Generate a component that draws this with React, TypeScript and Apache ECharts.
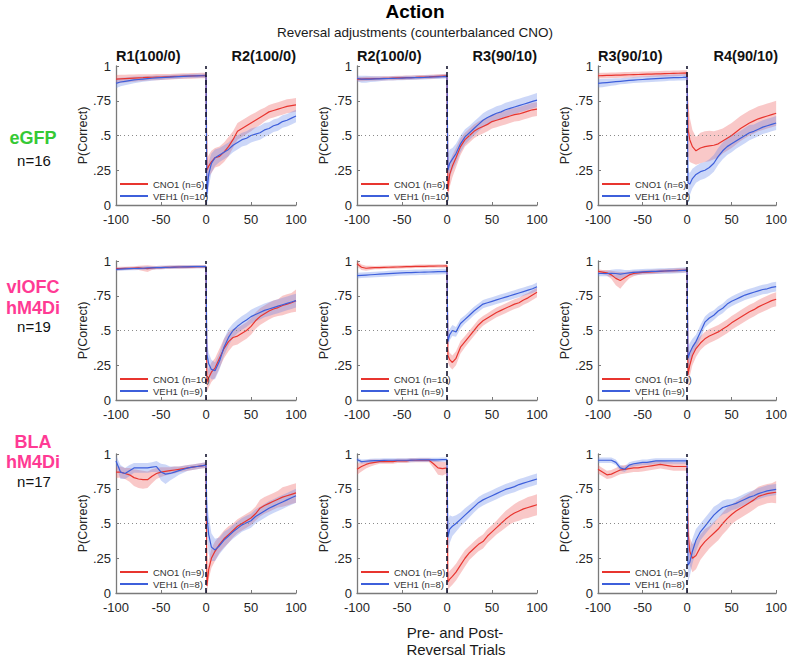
import React, { useEffect, useRef } from "react";
import * as echarts from "echarts";

// Trial positions: 21 pre-reversal points, 22 post-reversal points
const trialX = [
  -100, -95, -90, -85, -80, -75, -70, -65, -60, -55, -50, -45, -40, -35, -30, -25, -20, -15, -10, -5, 0,
  1, 3, 6, 10, 15, 20, 25, 30, 35, 40, 45, 50, 55, 60, 65, 70, 75, 80, 85, 90, 95, 100,
];

const yTickLabels = ["0", ".25", ".5", ".75", "1"];
const xTicks = [-100, -50, 0, 50, 100];

const columnTitles = [
  ["R1(100/0)", "R2(100/0)"],
  ["R2(100/0)", "R3(90/10)"],
  ["R3(90/10)", "R4(90/10)"],
];

const rowGroups = [
  { lines: ["eGFP"], color: "#35c935", n: "n=16" },
  { lines: ["vlOFC", "hM4Di"], color: "#ff3a94", n: "n=19" },
  { lines: ["BLA", "hM4Di"], color: "#ff3a94", n: "n=17" },
];

const rowLegendNames = [
  ["CNO1 (n=6)", "VEH1 (n=10)"],
  ["CNO1 (n=10)", "VEH1 (n=9)"],
  ["CNO1 (n=9)", "VEH1 (n=8)"],
];

// ---- eGFP row ----
const egfpC1Cno = [
  0.905, 0.907, 0.909, 0.911, 0.913, 0.915, 0.916, 0.918, 0.919, 0.92, 0.921, 0.922, 0.923, 0.925, 0.926, 0.927, 0.928, 0.929, 0.93, 0.931, 0.932,
  0.25, 0.28, 0.31, 0.34, 0.35, 0.38, 0.42, 0.47, 0.53, 0.55, 0.57, 0.59, 0.61, 0.63, 0.65, 0.67, 0.68, 0.69, 0.7, 0.71, 0.715, 0.72,
];
const egfpC1CnoSem = [
  0.03, 0.03, 0.028, 0.027, 0.026, 0.025, 0.024, 0.023, 0.022, 0.022, 0.021, 0.021, 0.02, 0.02, 0.02, 0.02, 0.02, 0.02, 0.02, 0.02, 0.02,
  0.08, 0.08, 0.08, 0.07, 0.07, 0.07, 0.07, 0.06, 0.06, 0.06, 0.06, 0.06, 0.055, 0.055, 0.05, 0.05, 0.05, 0.05, 0.05, 0.05, 0.05, 0.05,
];
const egfpC1Veh = [
  0.875, 0.885, 0.89, 0.895, 0.9, 0.903, 0.906, 0.909, 0.912, 0.914, 0.916, 0.918, 0.92, 0.922, 0.924, 0.926, 0.927, 0.928, 0.929, 0.93, 0.93,
  0.08, 0.22, 0.3, 0.34, 0.36, 0.38, 0.4, 0.43, 0.45, 0.47, 0.48, 0.5, 0.51, 0.52, 0.54, 0.55, 0.57, 0.58, 0.6, 0.61, 0.625, 0.64,
];
const egfpC1VehSem = [
  0.035, 0.03, 0.028, 0.026, 0.024, 0.022, 0.02, 0.019, 0.018, 0.017, 0.016, 0.015, 0.015, 0.015, 0.015, 0.015, 0.015, 0.015, 0.015, 0.015, 0.015,
  0.1, 0.09, 0.07, 0.06, 0.05, 0.05, 0.05, 0.05, 0.05, 0.05, 0.05, 0.05, 0.05, 0.05, 0.05, 0.045, 0.045, 0.045, 0.045, 0.045, 0.045, 0.045,
];

const egfpC2Cno = [
  0.905, 0.906, 0.907, 0.908, 0.909, 0.91, 0.911, 0.912, 0.913, 0.914, 0.915, 0.916, 0.917, 0.918, 0.92, 0.921, 0.922, 0.924, 0.926, 0.928, 0.93,
  0.1, 0.22, 0.28, 0.34, 0.42, 0.47, 0.5, 0.53, 0.55, 0.565, 0.58, 0.6, 0.61, 0.62, 0.63, 0.64, 0.65, 0.655, 0.665, 0.675, 0.685, 0.69,
];
const egfpC2CnoSem = [
  0.015, 0.015, 0.015, 0.015, 0.015, 0.015, 0.015, 0.015, 0.015, 0.015, 0.015, 0.015, 0.015, 0.015, 0.015, 0.015, 0.015, 0.015, 0.015, 0.015, 0.015,
  0.1, 0.09, 0.08, 0.07, 0.06, 0.05, 0.05, 0.05, 0.05, 0.05, 0.05, 0.05, 0.05, 0.05, 0.05, 0.05, 0.05, 0.05, 0.05, 0.05, 0.05, 0.05,
];
const egfpC2Veh = [
  0.91, 0.905, 0.905, 0.906, 0.907, 0.908, 0.909, 0.91, 0.911, 0.912, 0.913, 0.914, 0.915, 0.916, 0.917, 0.918, 0.92, 0.921, 0.922, 0.923, 0.925,
  0.25, 0.3, 0.33, 0.37, 0.44, 0.49, 0.52, 0.55, 0.58, 0.61, 0.63, 0.645, 0.66, 0.67, 0.685, 0.695, 0.705, 0.715, 0.725, 0.735, 0.745, 0.755,
];
const egfpC2VehSem = [
  0.02, 0.025, 0.025, 0.022, 0.02, 0.018, 0.016, 0.015, 0.015, 0.015, 0.015, 0.015, 0.015, 0.015, 0.015, 0.015, 0.015, 0.015, 0.015, 0.015, 0.015,
  0.12, 0.1, 0.08, 0.07, 0.06, 0.055, 0.05, 0.05, 0.05, 0.05, 0.05, 0.05, 0.05, 0.05, 0.05, 0.05, 0.05, 0.05, 0.05, 0.05, 0.05, 0.05,
];

const egfpC3Cno = [
  0.93, 0.931, 0.932, 0.933, 0.934, 0.935, 0.936, 0.937, 0.938, 0.939, 0.94, 0.941, 0.942, 0.943, 0.944, 0.945, 0.946, 0.947, 0.948, 0.949, 0.95,
  0.55, 0.47, 0.42, 0.39, 0.41, 0.42, 0.425, 0.43, 0.44, 0.46, 0.48, 0.5, 0.525, 0.55, 0.57, 0.59, 0.605, 0.62, 0.63, 0.64, 0.65, 0.66,
];
const egfpC3CnoSem = [
  0.02, 0.02, 0.02, 0.02, 0.02, 0.02, 0.02, 0.02, 0.02, 0.02, 0.02, 0.02, 0.02, 0.02, 0.02, 0.02, 0.02, 0.02, 0.02, 0.02, 0.02,
  0.2, 0.16, 0.12, 0.1, 0.11, 0.11, 0.11, 0.1, 0.1, 0.09, 0.09, 0.09, 0.09, 0.09, 0.09, 0.09, 0.09, 0.09, 0.09, 0.09, 0.09, 0.09,
];
const egfpC3Veh = [
  0.875, 0.878, 0.881, 0.884, 0.887, 0.89, 0.893, 0.896, 0.899, 0.901, 0.903, 0.905, 0.907, 0.909, 0.911, 0.913, 0.915, 0.916, 0.917, 0.918, 0.92,
  0.16, 0.15, 0.19, 0.22, 0.24, 0.25, 0.27, 0.3, 0.35, 0.39, 0.42, 0.44, 0.46, 0.48, 0.5, 0.52, 0.53, 0.545, 0.56, 0.57, 0.58, 0.59,
];
const egfpC3VehSem = [
  0.03, 0.03, 0.028, 0.026, 0.025, 0.022, 0.022, 0.022, 0.022, 0.022, 0.022, 0.022, 0.022, 0.022, 0.022, 0.022, 0.022, 0.022, 0.022, 0.022, 0.022,
  0.09, 0.08, 0.07, 0.06, 0.06, 0.06, 0.06, 0.06, 0.06, 0.06, 0.06, 0.06, 0.055, 0.055, 0.055, 0.055, 0.05, 0.05, 0.05, 0.05, 0.05, 0.05,
];

// ---- vlOFC row ----
const vlofcC1Cno = [
  0.945, 0.946, 0.947, 0.948, 0.949, 0.95, 0.948, 0.945, 0.95, 0.952, 0.953, 0.954, 0.955, 0.956, 0.957, 0.957, 0.958, 0.958, 0.959, 0.96, 0.96,
  0.13, 0.16, 0.2, 0.23, 0.3, 0.37, 0.42, 0.45, 0.46, 0.48, 0.5, 0.53, 0.57, 0.6, 0.62, 0.64, 0.655, 0.665, 0.68, 0.69, 0.7, 0.715,
];
const vlofcC1CnoSem = [
  0.012, 0.012, 0.012, 0.012, 0.012, 0.015, 0.02, 0.025, 0.015, 0.012, 0.012, 0.012, 0.012, 0.012, 0.012, 0.012, 0.012, 0.012, 0.012, 0.012, 0.012,
  0.07, 0.07, 0.07, 0.07, 0.07, 0.07, 0.07, 0.06, 0.06, 0.06, 0.06, 0.06, 0.06, 0.06, 0.06, 0.06, 0.06, 0.06, 0.07, 0.07, 0.07, 0.08,
];
const vlofcC1Veh = [
  0.94, 0.942, 0.944, 0.945, 0.946, 0.947, 0.948, 0.95, 0.951, 0.952, 0.953, 0.954, 0.955, 0.956, 0.957, 0.958, 0.958, 0.959, 0.959, 0.96, 0.96,
  0.33, 0.26, 0.22, 0.21, 0.28, 0.38, 0.45, 0.5, 0.53, 0.555, 0.575, 0.6, 0.615, 0.63, 0.645, 0.655, 0.665, 0.675, 0.685, 0.695, 0.705, 0.715,
];
const vlofcC1VehSem = [
  0.012, 0.012, 0.012, 0.012, 0.012, 0.012, 0.012, 0.012, 0.012, 0.012, 0.012, 0.012, 0.012, 0.012, 0.012, 0.012, 0.012, 0.012, 0.012, 0.012, 0.012,
  0.1, 0.08, 0.07, 0.06, 0.06, 0.06, 0.06, 0.05, 0.05, 0.05, 0.05, 0.05, 0.05, 0.05, 0.05, 0.05, 0.05, 0.05, 0.05, 0.05, 0.05, 0.05,
];

const vlofcC2Cno = [
  0.98, 0.955, 0.948, 0.95, 0.952, 0.953, 0.954, 0.955, 0.956, 0.957, 0.958, 0.959, 0.96, 0.961, 0.962, 0.962, 0.963, 0.963, 0.964, 0.964, 0.965,
  0.32, 0.29, 0.27, 0.3, 0.38, 0.42, 0.46, 0.5, 0.54, 0.57, 0.59, 0.61, 0.63, 0.645, 0.66, 0.675, 0.69, 0.7, 0.72, 0.735, 0.755, 0.775,
];
const vlofcC2CnoSem = [
  0.02, 0.02, 0.018, 0.015, 0.012, 0.012, 0.012, 0.012, 0.012, 0.012, 0.012, 0.012, 0.012, 0.012, 0.012, 0.012, 0.012, 0.012, 0.012, 0.012, 0.012,
  0.05, 0.05, 0.05, 0.05, 0.045, 0.04, 0.04, 0.04, 0.04, 0.035, 0.035, 0.035, 0.035, 0.035, 0.035, 0.035, 0.035, 0.035, 0.035, 0.035, 0.035, 0.035,
];
const vlofcC2Veh = [
  0.895, 0.897, 0.899, 0.901, 0.903, 0.905, 0.907, 0.909, 0.911, 0.913, 0.915, 0.916, 0.917, 0.918, 0.919, 0.92, 0.921, 0.922, 0.923, 0.924, 0.925,
  0.42, 0.47, 0.5, 0.49, 0.55, 0.58, 0.61, 0.64, 0.665, 0.69, 0.7, 0.71, 0.72, 0.73, 0.74, 0.75, 0.76, 0.77, 0.78, 0.79, 0.8, 0.815,
];
const vlofcC2VehSem = [
  0.02, 0.02, 0.02, 0.02, 0.02, 0.02, 0.02, 0.02, 0.02, 0.02, 0.02, 0.02, 0.02, 0.02, 0.02, 0.02, 0.02, 0.02, 0.02, 0.02, 0.02,
  0.05, 0.04, 0.04, 0.035, 0.035, 0.03, 0.03, 0.03, 0.03, 0.03, 0.03, 0.03, 0.03, 0.03, 0.03, 0.03, 0.03, 0.03, 0.03, 0.03, 0.03, 0.03,
];

const vlofcC3Cno = [
  0.925, 0.92, 0.915, 0.9, 0.875, 0.86, 0.88, 0.9, 0.91, 0.915, 0.918, 0.92, 0.922, 0.924, 0.926, 0.928, 0.93, 0.931, 0.932, 0.933, 0.935,
  0.18, 0.25, 0.32, 0.37, 0.41, 0.44, 0.46, 0.475, 0.49, 0.51, 0.53, 0.555, 0.575, 0.595, 0.615, 0.635, 0.65, 0.67, 0.685, 0.7, 0.715, 0.725,
];
const vlofcC3CnoSem = [
  0.015, 0.015, 0.02, 0.03, 0.05, 0.06, 0.04, 0.025, 0.02, 0.015, 0.015, 0.015, 0.015, 0.015, 0.015, 0.015, 0.015, 0.015, 0.015, 0.015, 0.015,
  0.1, 0.08, 0.07, 0.06, 0.05, 0.05, 0.05, 0.05, 0.05, 0.05, 0.05, 0.05, 0.05, 0.05, 0.05, 0.05, 0.05, 0.05, 0.05, 0.05, 0.05, 0.05,
];
const vlofcC3Veh = [
  0.91, 0.91, 0.91, 0.912, 0.91, 0.905, 0.91, 0.915, 0.918, 0.92, 0.922, 0.924, 0.925, 0.926, 0.927, 0.928, 0.929, 0.93, 0.931, 0.933, 0.935,
  0.3, 0.34, 0.38, 0.42, 0.49, 0.56, 0.59, 0.61, 0.64, 0.66, 0.69, 0.71, 0.725, 0.74, 0.755, 0.765, 0.775, 0.785, 0.795, 0.8, 0.81, 0.815,
];
const vlofcC3VehSem = [
  0.02, 0.02, 0.02, 0.025, 0.03, 0.035, 0.025, 0.02, 0.02, 0.02, 0.02, 0.02, 0.02, 0.02, 0.02, 0.02, 0.02, 0.02, 0.02, 0.02, 0.02,
  0.08, 0.07, 0.06, 0.05, 0.05, 0.04, 0.04, 0.035, 0.035, 0.035, 0.035, 0.035, 0.035, 0.035, 0.035, 0.035, 0.035, 0.035, 0.035, 0.035, 0.035, 0.035,
];

// ---- BLA row ----
const blaC1Cno = [
  0.87, 0.87, 0.86, 0.85, 0.83, 0.82, 0.815, 0.815, 0.84, 0.86, 0.87, 0.875, 0.88, 0.885, 0.89, 0.895, 0.9, 0.905, 0.91, 0.915, 0.92,
  0.05, 0.17, 0.25, 0.3, 0.35, 0.39, 0.42, 0.45, 0.48, 0.5, 0.52, 0.54, 0.57, 0.61, 0.63, 0.645, 0.66, 0.675, 0.69, 0.7, 0.71, 0.72,
];
const blaC1CnoSem = [
  0.04, 0.04, 0.04, 0.05, 0.06, 0.065, 0.065, 0.06, 0.05, 0.04, 0.035, 0.03, 0.025, 0.025, 0.02, 0.02, 0.02, 0.02, 0.02, 0.02, 0.02,
  0.06, 0.07, 0.07, 0.07, 0.06, 0.06, 0.06, 0.05, 0.05, 0.05, 0.05, 0.05, 0.05, 0.06, 0.06, 0.06, 0.06, 0.06, 0.07, 0.07, 0.07, 0.07,
];
const blaC1Veh = [
  0.95, 0.87, 0.86, 0.88, 0.9, 0.9, 0.9, 0.9, 0.905, 0.91, 0.87, 0.855, 0.86, 0.87, 0.88, 0.89, 0.9, 0.905, 0.91, 0.915, 0.92,
  0.55, 0.42, 0.33, 0.31, 0.34, 0.38, 0.41, 0.44, 0.465, 0.49, 0.505, 0.52, 0.55, 0.57, 0.59, 0.61, 0.625, 0.64, 0.655, 0.67, 0.685, 0.7,
];
const blaC1VehSem = [
  0.04, 0.05, 0.04, 0.04, 0.035, 0.035, 0.035, 0.035, 0.035, 0.04, 0.06, 0.07, 0.05, 0.04, 0.03, 0.025, 0.02, 0.02, 0.02, 0.02, 0.02,
  0.12, 0.14, 0.1, 0.08, 0.06, 0.06, 0.05, 0.05, 0.05, 0.05, 0.05, 0.05, 0.05, 0.05, 0.05, 0.05, 0.05, 0.05, 0.05, 0.05, 0.05, 0.05,
];

const blaC2Cno = [
  0.89, 0.91, 0.925, 0.935, 0.94, 0.945, 0.945, 0.945, 0.945, 0.95, 0.95, 0.95, 0.955, 0.955, 0.955, 0.955, 0.955, 0.93, 0.9, 0.895, 0.9,
  0.08, 0.1, 0.12, 0.15, 0.2, 0.25, 0.29, 0.32, 0.35, 0.37, 0.41, 0.44, 0.47, 0.5, 0.53, 0.555, 0.575, 0.59, 0.605, 0.615, 0.625, 0.635,
];
const blaC2CnoSem = [
  0.04, 0.035, 0.03, 0.025, 0.02, 0.015, 0.015, 0.015, 0.015, 0.015, 0.015, 0.015, 0.015, 0.015, 0.015, 0.015, 0.015, 0.03, 0.05, 0.05, 0.04,
  0.06, 0.06, 0.06, 0.06, 0.06, 0.06, 0.05, 0.05, 0.05, 0.05, 0.05, 0.05, 0.05, 0.055, 0.06, 0.06, 0.065, 0.07, 0.07, 0.075, 0.075, 0.075,
];
const blaC2Veh = [
  0.96, 0.945, 0.948, 0.95, 0.952, 0.953, 0.954, 0.955, 0.955, 0.955, 0.955, 0.955, 0.956, 0.957, 0.958, 0.958, 0.958, 0.958, 0.958, 0.959, 0.96,
  0.4, 0.46, 0.48, 0.5, 0.53, 0.56, 0.59, 0.62, 0.65, 0.67, 0.685, 0.7, 0.715, 0.73, 0.745, 0.755, 0.765, 0.78, 0.79, 0.8, 0.81, 0.82,
];
const blaC2VehSem = [
  0.015, 0.015, 0.015, 0.015, 0.015, 0.015, 0.015, 0.015, 0.015, 0.015, 0.015, 0.015, 0.015, 0.015, 0.015, 0.015, 0.015, 0.015, 0.015, 0.015, 0.015,
  0.12, 0.1, 0.07, 0.06, 0.05, 0.05, 0.045, 0.04, 0.04, 0.04, 0.04, 0.04, 0.04, 0.04, 0.04, 0.04, 0.04, 0.04, 0.04, 0.04, 0.04, 0.04,
];

const blaC3Cno = [
  0.89, 0.87, 0.85, 0.855, 0.87, 0.885, 0.89, 0.895, 0.9, 0.9, 0.905, 0.91, 0.915, 0.92, 0.925, 0.92, 0.915, 0.91, 0.91, 0.91, 0.91,
  0.45, 0.3, 0.25, 0.27, 0.33, 0.37, 0.4, 0.43, 0.46, 0.5, 0.535, 0.565, 0.59, 0.61, 0.63, 0.65, 0.67, 0.695, 0.705, 0.715, 0.72, 0.725,
];
const blaC3CnoSem = [
  0.03, 0.03, 0.03, 0.03, 0.03, 0.03, 0.03, 0.03, 0.03, 0.03, 0.03, 0.03, 0.03, 0.03, 0.03, 0.03, 0.03, 0.03, 0.03, 0.03, 0.03,
  0.15, 0.1, 0.1, 0.1, 0.09, 0.09, 0.08, 0.08, 0.08, 0.08, 0.08, 0.07, 0.07, 0.07, 0.07, 0.07, 0.07, 0.07, 0.07, 0.07, 0.07, 0.08,
];
const blaC3Veh = [
  0.955, 0.955, 0.955, 0.955, 0.94, 0.9, 0.89, 0.92, 0.93, 0.935, 0.94, 0.94, 0.945, 0.95, 0.95, 0.95, 0.95, 0.95, 0.95, 0.95, 0.95,
  0.2, 0.22, 0.3, 0.38, 0.44, 0.48, 0.52, 0.56, 0.59, 0.615, 0.625, 0.635, 0.645, 0.66, 0.675, 0.69, 0.7, 0.715, 0.725, 0.735, 0.74, 0.745,
];
const blaC3VehSem = [
  0.02, 0.02, 0.02, 0.02, 0.02, 0.02, 0.02, 0.02, 0.02, 0.02, 0.02, 0.02, 0.02, 0.02, 0.02, 0.02, 0.02, 0.02, 0.02, 0.02, 0.02,
  0.12, 0.1, 0.09, 0.08, 0.06, 0.06, 0.06, 0.06, 0.05, 0.05, 0.05, 0.04, 0.04, 0.04, 0.04, 0.04, 0.04, 0.04, 0.04, 0.04, 0.04, 0.04,
];

const panelData = [
  [egfpC1Cno, egfpC1CnoSem, egfpC1Veh, egfpC1VehSem],
  [egfpC2Cno, egfpC2CnoSem, egfpC2Veh, egfpC2VehSem],
  [egfpC3Cno, egfpC3CnoSem, egfpC3Veh, egfpC3VehSem],
  [vlofcC1Cno, vlofcC1CnoSem, vlofcC1Veh, vlofcC1VehSem],
  [vlofcC2Cno, vlofcC2CnoSem, vlofcC2Veh, vlofcC2VehSem],
  [vlofcC3Cno, vlofcC3CnoSem, vlofcC3Veh, vlofcC3VehSem],
  [blaC1Cno, blaC1CnoSem, blaC1Veh, blaC1VehSem],
  [blaC2Cno, blaC2CnoSem, blaC2Veh, blaC2VehSem],
  [blaC3Cno, blaC3CnoSem, blaC3Veh, blaC3VehSem],
];

// Layout (pixels)
const GRID_LEFTS = [116, 357, 598];
const GRID_TOPS = [66, 261, 454];
const GW = 180;
const GH = 139;
const FONT = "'Liberation Sans', Arial, Helvetica, sans-serif";
const RED = "#e8352f";
const BLUE = "#3d5fdb";
const RED_BAND = "rgba(238, 95, 95, 0.34)";
const BLUE_BAND = "rgba(95, 130, 232, 0.32)";
const AXIS_GRAY = "#7a7a7a";

function bandSeries(i: number, mean: number[], sem: number[], fill: string) {
  const rows = trialX.map((x, k) => [x, mean[k] - sem[k], mean[k] + sem[k]]);
  return {
    type: "custom",
    xAxisIndex: i,
    yAxisIndex: i,
    silent: true,
    clip: true,
    z: 1,
    encode: { x: 0, y: [1, 2] },
    data: rows,
    renderItem: (params: any, api: any) => {
      if (params.dataIndex !== 0) return null;
      const upper = rows.map((r) => api.coord([r[0], r[2]]));
      const lower = rows.map((r) => api.coord([r[0], r[1]])).reverse();
      return {
        type: "polygon",
        shape: { points: upper.concat(lower) },
        style: { fill, stroke: "none" },
      };
    },
  };
}

function buildOption() {
  const grid: any[] = [];
  const xAxis: any[] = [];
  const yAxis: any[] = [];
  const series: any[] = [];
  const legend: any[] = [];

  panelData.forEach((pd, i) => {
    const r = Math.floor(i / 3);
    const c = i % 3;
    const [cno, cnoSem, veh, vehSem] = pd;
    const [cnoName, vehName] = rowLegendNames[r];
    const left = GRID_LEFTS[c];
    const top = GRID_TOPS[r];

    grid.push({ left, top, width: GW, height: GH, containLabel: false });
    xAxis.push({
      type: "value",
      gridIndex: i,
      min: -100,
      max: 100,
      interval: 50,
      axisLine: { show: true, onZero: false, lineStyle: { color: AXIS_GRAY, width: 1.3 } },
      axisTick: { show: true, inside: true, length: 3, lineStyle: { color: AXIS_GRAY } },
      axisLabel: {
        fontSize: 13,
        color: "#262626",
        margin: 8,
        fontFamily: FONT,
        formatter: (v: number) => (xTicks.includes(v) ? String(v) : ""),
      },
      splitLine: { show: false },
    });
    yAxis.push({
      type: "value",
      gridIndex: i,
      min: 0,
      max: 1,
      interval: 0.25,
      name: "P(Correct)",
      nameLocation: "middle",
      nameGap: 27,
      nameTextStyle: { fontSize: 12.5, color: "#262626", fontFamily: FONT },
      axisLine: { show: true, onZero: false, lineStyle: { color: AXIS_GRAY, width: 1.3 } },
      axisTick: { show: true, inside: true, length: 3, lineStyle: { color: AXIS_GRAY } },
      axisLabel: {
        fontSize: 13,
        color: "#262626",
        margin: 5,
        fontFamily: FONT,
        formatter: (v: number) => yTickLabels[Math.round(v * 4)] ?? "",
      },
      splitLine: { show: false },
    });

    series.push(bandSeries(i, cno, cnoSem, RED_BAND));
    series.push(bandSeries(i, veh, vehSem, BLUE_BAND));

    series.push({
      type: "line",
      name: cnoName,
      xAxisIndex: i,
      yAxisIndex: i,
      symbol: "none",
      z: 3,
      lineStyle: { color: RED, width: 1.2 },
      itemStyle: { color: RED },
      data: trialX.map((x, k) => [x, cno[k]]),
    });
    series.push({
      type: "line",
      name: vehName,
      xAxisIndex: i,
      yAxisIndex: i,
      symbol: "none",
      z: 4,
      lineStyle: { color: BLUE, width: 1.2 },
      itemStyle: { color: BLUE },
      data: trialX.map((x, k) => [x, veh[k]]),
      markLine: {
        silent: true,
        symbol: ["none", "none"],
        label: { show: false },
        data: [
          { xAxis: 0, lineStyle: { type: [5, 3], color: "#161630", width: 1.6 } },
          { yAxis: 0.5, lineStyle: { type: [1, 3], color: "#8a8a8a", width: 1 } },
        ],
      },
    });

    legend.push({
      left: left + 3,
      top: top + GH - 26,
      orient: "vertical",
      itemGap: 2,
      itemWidth: 28,
      itemHeight: 9,
      padding: 0,
      selectedMode: false,
      itemStyle: { opacity: 0 },
      textStyle: { fontSize: 9.5, color: "#333", fontFamily: FONT },
      data: [cnoName, vehName],
    });
  });

  const texts: any[] = [];
  texts.push({ text: "Action", x: 415, y: 11, fontSize: 19, fontWeight: "bold", align: "center", fill: "#000" });
  texts.push({
    text: "Reversal adjustments (counterbalanced CNO)",
    x: 415,
    y: 32,
    fontSize: 13.5,
    fontWeight: "normal",
    align: "center",
    fill: "#1a1a1a",
  });
  columnTitles.forEach((pair, c) => {
    texts.push({ text: pair[0], x: GRID_LEFTS[c], y: 56, fontSize: 14.5, fontWeight: "bold", align: "left", fill: "#111" });
    texts.push({ text: pair[1], x: GRID_LEFTS[c] + GW, y: 56, fontSize: 14.5, fontWeight: "bold", align: "right", fill: "#111" });
  });
  const rowLabelY = [
    [138, 160],
    [287, 308, 326],
    [442, 462, 481],
  ];
  rowGroups.forEach((rg, r) => {
    rg.lines.forEach((t, j) => {
      texts.push({ text: t, x: 33, y: rowLabelY[r][j], fontSize: 18, fontWeight: "bold", align: "center", fill: rg.color });
    });
    texts.push({
      text: rg.n,
      x: 34,
      y: rowLabelY[r][rg.lines.length],
      fontSize: 15,
      fontWeight: "normal",
      align: "center",
      fill: "#111",
    });
  });
  texts.push({ text: "Pre- and Post-", x: 455, y: 632, fontSize: 15, fontWeight: "normal", align: "center", fill: "#1a1a1a" });
  texts.push({ text: "Reversal Trials", x: 456, y: 649, fontSize: 15, fontWeight: "normal", align: "center", fill: "#1a1a1a" });

  const graphic = texts.map((t) => ({
    type: "text",
    x: t.x,
    y: t.y,
    silent: true,
    style: {
      text: t.text,
      fontSize: t.fontSize,
      fontWeight: t.fontWeight,
      fontFamily: FONT,
      fill: t.fill,
      align: t.align,
      verticalAlign: "middle",
    },
  }));

  return {
    animation: false,
    backgroundColor: "#ffffff",
    textStyle: { fontFamily: FONT },
    grid,
    xAxis,
    yAxis,
    legend,
    series,
    graphic,
  };
}

export default function App() {
  const ref = useRef<HTMLDivElement>(null);
  useEffect(() => {
    if (!ref.current) return;
    const chart = echarts.init(ref.current, undefined, { renderer: "svg" });
    chart.setOption(buildOption() as any);
    return () => {
      chart.dispose();
    };
  }, []);
  return (
    <div
      ref={ref}
      style={{ position: "absolute", left: 0, top: 0, width: 790, height: 656, background: "#fff" }}
    />
  );
}
